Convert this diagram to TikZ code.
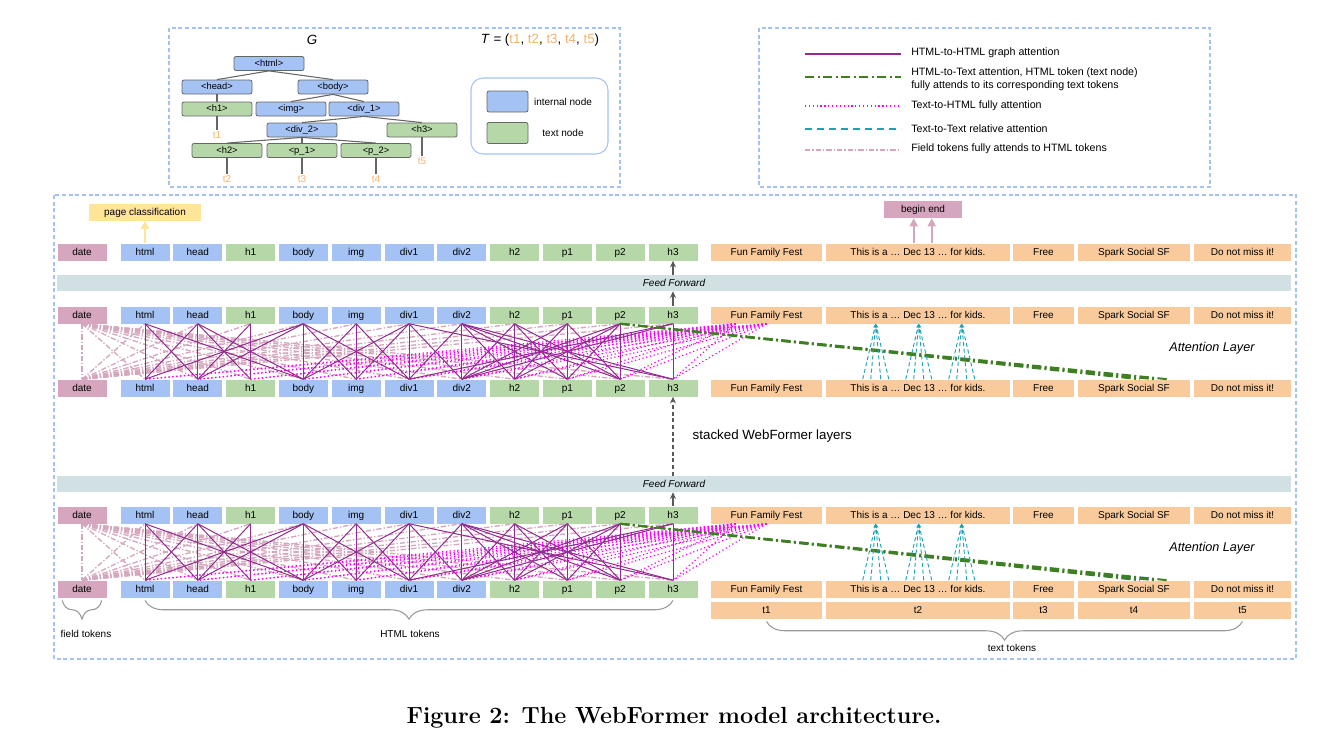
\documentclass[tikz,border=0pt]{standalone}
\usepackage{fontspec}
\newfontfamily\arialfont{Liberation Sans}
\usetikzlibrary{arrows.meta,calc,positioning,decorations.pathreplacing}

\definecolor{htmlblue}{HTML}{A4C2F4}
\definecolor{textgreen}{HTML}{B6D7A8}
\definecolor{textorange}{HTML}{F9CB9C}
\definecolor{fieldpink}{HTML}{D5A6BD}
\definecolor{ffgray}{HTML}{D0E0E3}
\definecolor{clsyellow}{HTML}{FFE599}
\definecolor{graphpurple}{HTML}{922B8F}
\definecolor{h2tgreen}{HTML}{3F7F24}
\definecolor{t2hmagenta}{HTML}{FF00FF}
\definecolor{relteal}{HTML}{1BA3B5}
\definecolor{tgray}{HTML}{666666}
\definecolor{tokorange}{HTML}{F6B26B}
\definecolor{bracegray}{HTML}{999999}

\tikzset{
  tok/.style={minimum width=36.75pt, minimum height=12.75pt, inner sep=0pt,
    text height=5.3pt, text depth=0.4pt, font=\arialfont\fontsize{7.5}{9}\selectfont},
  inttok/.style={tok, fill=htmlblue},
  leaftok/.style={tok, fill=textgreen},
  fieldtok/.style={tok, fill=fieldpink},
  texttok/.style={tok, fill=textorange},
  ffband/.style={fill=ffgray, minimum width=925.5pt, minimum height=12pt, inner sep=0pt,
    font=\arialfont\itshape\fontsize{7.5}{9}\selectfont},
  ffarrow/.style={draw=black!65, line width=0.8pt, -{Stealth[length=5pt,width=4.5pt]}},
  outarrow/.style={line width=1.4pt, -{Triangle[length=6pt,width=6pt]}},
  graphattn/.style={draw=graphpurple, line width=0.75pt},
  fieldattn/.style={draw=fieldpink, line width=1pt, dash pattern=on 4pt off 1.5pt on 1pt off 1.5pt},
  t2hattn/.style={draw=t2hmagenta, line width=0.9pt, dash pattern=on 0.9pt off 2pt},
  h2tattn/.style={draw=h2tgreen, line width=1.5pt, dash pattern=on 7pt off 2.5pt on 1.5pt off 2.5pt},
  relattn/.style={draw=relteal, line width=0.7pt, dash pattern=on 3pt off 2pt,
    -{Stealth[length=3pt,width=2.5pt]}},
  boxdash/.style={draw=htmlblue, line width=0.8pt, dash pattern=on 3pt off 2pt},
  treenode/.style={draw=tgray, line width=0.6pt, rounded corners=1.5pt, minimum width=52.5pt,
    minimum height=10.5pt, inner sep=0pt, text height=5pt, text depth=0.8pt,
    font=\arialfont\fontsize{7}{8}\selectfont},
  treeint/.style={treenode, fill=htmlblue},
  treeleaf/.style={treenode, fill=textgreen},
  treeedge/.style={draw=tgray, line width=0.8pt},
  tlabel/.style={text=tokorange, font=\arialfont\fontsize{7.5}{9}\selectfont, inner sep=1pt},
  lbltext/.style={font=\arialfont\fontsize{7.5}{9}\selectfont, inner sep=1pt},
  legtext/.style={font=\arialfont\fontsize{8}{10}\selectfont, inner sep=0pt, anchor=west, align=left},
  tokbrace/.style={draw=bracegray, line width=0.8pt, decorate,
    decoration={brace, mirror, amplitude=14pt}},
}

\def\graphedges{html/html, html/head, html/body, head/head, head/html, head/h1, head/body,
  h1/h1, h1/head, body/body, body/html, body/img, body/div1, body/head, img/img, img/body,
  img/div1, div1/div1, div1/body, div1/div2, div1/h3, div1/img, div2/div2, div2/div1,
  div2/h2, div2/p1, div2/p2, div2/h3, h2/h2, h2/div2, h2/p1, h2/p2, p1/p1, p1/div2, p1/h2,
  p1/p2, p2/p2, p2/div2, p2/h2, p2/p1, h3/h3, h3/div1, h3/div2}

\begin{document}
\begin{tikzpicture}[x=0.75pt,y=-0.75pt]
  \useasboundingbox (0,0) rectangle (1343,743);

  % frames
  \draw[boxdash] (169,28) rectangle (620,187);
  \draw[boxdash] (759,28) rectangle (1210,187);
  \draw[boxdash] (54,195) rectangle (1296,659);

  % DOM tree
  \node[font=\arialfont\itshape\fontsize{10}{12}\selectfont] (gname) at (312,40) {G};
  \node[font=\arialfont\fontsize{10}{12}\selectfont] (tseq) at (540,40)
    {\textit{T} = (\textcolor{tokorange}{t1}, \textcolor{tokorange}{t2},
     \textcolor{tokorange}{t3}, \textcolor{tokorange}{t4}, \textcolor{tokorange}{t5})};
  \node[treeint] (g-html) at (269,63.5) {<html>};
  \node[treeint] (g-head) at (217,87) {<head>};
  \node[treeint] (g-body) at (333,87) {<body>};
  \node[treeleaf] (g-h1) at (217,109) {<h1>};
  \node[treeint] (g-img) at (291,109) {<img>};
  \node[treeint] (g-div1) at (364,109) {<div\_1>};
  \node[treeint] (g-div2) at (302,130) {<div\_2>};
  \node[treeleaf] (g-h3) at (422,130) {<h3>};
  \node[treeleaf] (g-h2) at (227,150.5) {<h2>};
  \node[treeleaf] (g-p1) at (302,150.5) {<p\_1>};
  \node[treeleaf] (g-p2) at (376,150.5) {<p\_2>};
  \foreach \n/\x/\y in {t1/217/135, t2/227/179, t3/302/179, t4/376/179, t5/422/161}
    \node[tlabel] (g-\n) at (\x,\y) {\n};
  \foreach \a/\b in {html/head, html/body, head/h1, body/img, body/div1, div1/div2, div1/h3,
      div2/h2, div2/p1, div2/p2, h1/t1, h2/t2, p1/t3, p2/t4, h3/t5}
    \draw[treeedge] (g-\a.south) -- (g-\b.north);

  % node key
  \draw[draw=htmlblue, line width=0.8pt, rounded corners=9pt] (471,78) rectangle (608,154);
  \node[treeint, minimum width=30.75pt, minimum height=15.75pt] (keyint) at (507.5,101.5) {};
  \node[treeleaf, minimum width=30.75pt, minimum height=15.75pt] (keyleaf) at (507.5,133) {};
  \node[lbltext] (keyintlbl) at (563,102) {internal node};
  \node[lbltext] (keyleaflbl) at (563,133) {text node};

  % legend
  \draw[graphattn, line width=1.5pt] (805,54) -- (901,54);
  \draw[h2tattn] (805,77) -- (901,77);
  \draw[t2hattn, line width=1.2pt] (805,106) -- (901,106);
  \draw[relattn, -, line width=1.2pt, dash pattern=on 5pt off 4pt] (805,129) -- (901,129);
  \draw[fieldattn, line width=1.3pt] (805,150) -- (901,150);
  \node[legtext] (leg1) at (911,53) {HTML-to-HTML graph attention};
  \node[legtext] (leg2) at (911,79) {HTML-to-Text attention, HTML token (text node)\\
    fully attends to its corresponding text tokens};
  \node[legtext] (leg3) at (911,106) {Text-to-HTML fully attention};
  \node[legtext] (leg4) at (911,129) {Text-to-Text relative attention};
  \node[legtext] (leg5) at (911,149) {Field tokens fully attends to HTML tokens};

  % token rows
  \foreach \r/\y in {A/252, B/315, C/388, D/515, E/589} {
    \foreach \n/\x/\s in {date/82/fieldtok, html/145/inttok, head/197.8/inttok,
        h1/250.6/leaftok, body/303.4/inttok, img/356.2/inttok, div1/409/inttok,
        div2/461.8/inttok, h2/514.6/leaftok, p1/567.4/leaftok, p2/620.2/leaftok, h3/673/leaftok}
      \node[\s] (\r-\n) at (\x,\y) {\n};
    \foreach \n/\x/\w/\txt in {t1/766.5/83.25/Fun Family Fest,
        t2/918/138/{This is a … Dec 13 … for kids.}, t3/1043.5/45.75/Free,
        t4/1134/84/Spark Social SF, t5/1242.5/72.75/Do not miss it!}
      \node[texttok, minimum width=\w pt] (\r-\n) at (\x,\y) {\txt};
  }
  \foreach \n/\x/\w in {t1/766.5/83.25, t2/918/138, t3/1043.5/45.75, t4/1134/84, t5/1242.5/72.75}
    \node[texttok, minimum width=\w pt] (F-\n) at (\x,610) {\n};

  % outputs
  \node[tok, fill=clsyellow, minimum width=84pt] (cls) at (145,212) {page classification};
  \node[tok, fill=fieldpink, minimum width=58.5pt] (span) at (923,209.5) {begin end};
  \draw[outarrow, draw=clsyellow, fill=clsyellow] (A-html.north) -- (cls.south);
  \foreach \o in {88,106}
    \draw[outarrow, draw=fieldpink, fill=fieldpink]
      ($(A-t2.north west)+(\o,0)$) coordinate (sp\o) -- (sp\o |- span.south);

  % feed forward and stacking
  \node[ffband] (ff1) at (674,283) {Feed Forward};
  \node[ffband] (ff2) at (674,484) {Feed Forward};
  \draw[ffarrow] (B-h3.north) -- (B-h3.north |- ff1.south);
  \draw[ffarrow] (A-h3.south |- ff1.north) -- (A-h3.south);
  \draw[ffarrow] (D-h3.north) -- (D-h3.north |- ff2.south);
  \draw[ffarrow, dash pattern=on 3pt off 2pt] (C-h3.south |- ff2.north) -- (C-h3.south);
  \node[anchor=west, font=\arialfont\fontsize{10}{12}\selectfont] (stack) at (688,436)
    {stacked WebFormer layers};
  \node[font=\arialfont\itshape\fontsize{9.5}{11}\selectfont] (attn1) at (1212,348) {Attention Layer};
  \node[font=\arialfont\itshape\fontsize{9.5}{11}\selectfont] (attn2) at (1212,548) {Attention Layer};

  % attention layers
  \foreach \t/\b in {B/C, D/E} {
    \draw[fieldattn] (\t-date.south) -- (\b-date.north);
    \foreach \j in {html,head,h1,body,img,div1,div2,h2,p1,p2,h3} {
      \draw[fieldattn] (\t-date.south) -- (\b-\j.north);
      \draw[fieldattn] (\b-date.north) -- (\t-\j.south);
    }
    \foreach \j in {html,head,h1,body,img,div1,div2,h2,p1,p2,h3} {
      \draw[t2hattn] (\t-t1.south) -- (\b-\j.north);
      \draw[t2hattn] ($(\t-t1.south west)+(25,0)$) -- (\b-\j.north);
    }
    \foreach \i/\j in \graphedges
      \draw[graphattn] (\t-\i.south) -- (\b-\j.north);
    \foreach \o in {62,77,90}
      \draw[h2tattn] (\t-p2.south) -- ($(\b-t4.north west)+(\o,0)$);
    \foreach \o in {50,93,136}
      \foreach \d in {-13,-5,5,13}
        \draw[relattn] ($(\b-t2.north west)+({\o+\d},0)$) -- ($(\t-t2.south west)+(\o,0)$);
  }

  % token groups
  \draw[tokbrace] ([xshift=3.75pt,yshift=-2pt]E-date.south west) -- ([xshift=-3.75pt,yshift=-2pt]E-date.south east);
  \draw[tokbrace] ([yshift=-2pt]E-html.south) -- ([yshift=-2pt]E-h3.south);
  \draw[tokbrace] ([yshift=-2pt]F-t1.south) -- ([yshift=-2pt]F-t5.south);
  \node[lbltext] (fieldlbl) at (86,634) {field tokens};
  \node[lbltext] (htmllbl) at (410,634) {HTML tokens};
  \node[lbltext] (textlbl) at (1012,648) {text tokens};

  % caption
  \node[font=\fontsize{17.5}{20}\selectfont\bfseries] (caption) at (674,718)
    {Figure 2: The WebFormer model architecture.};
\end{tikzpicture}
\end{document}
